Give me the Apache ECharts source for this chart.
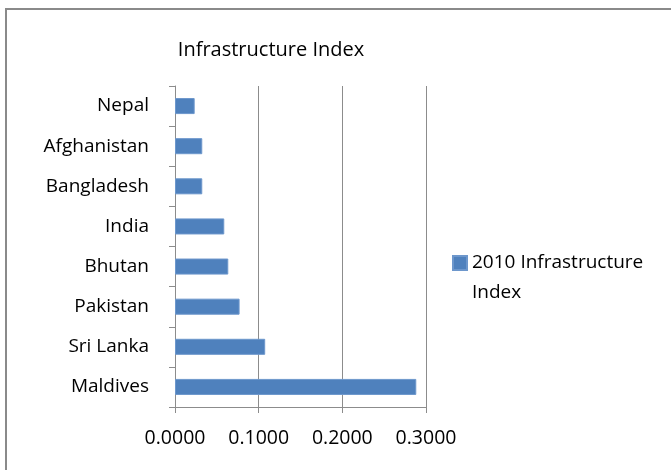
<!DOCTYPE html>
<html>
<head>
<meta charset="utf-8">
<script src="https://cdn.jsdelivr.net/npm/echarts@6/dist/echarts.min.js"></script>
<style>
  html, body { margin: 0; padding: 0; background: #fff; }
  #chart { width: 671px; height: 470px; }
</style>
</head>
<body>
<div id="chart"></div>
<script>
// Countries, listed top to bottom
const countries = ['Nepal', 'Afghanistan', 'Bangladesh', 'India', 'Bhutan', 'Pakistan', 'Sri Lanka', 'Maldives'];
// 2010 infrastructure index per country
const index2010 = [0.0235, 0.0326, 0.0326, 0.0589, 0.0637, 0.0772, 0.1078, 0.2884];
// Value axis tick values
const xTicks = [0, 0.1, 0.2, 0.3];

const FONT = '"Open Sans", sans-serif';
const chart = echarts.init(document.getElementById('chart'));

chart.setOption({
  animation: false,
  backgroundColor: '#fff',
  title: {
    text: 'Infrastructure Index',
    left: 266,
    textAlign: 'center',
    top: 35,
    textStyle: { fontFamily: FONT, fontSize: 20, fontWeight: 'normal', color: '#000' }
  },
  graphic: [{
    type: 'rect',
    shape: { x: 6, y: 9, width: 700, height: 500 },
    style: { fill: 'none', stroke: '#8a8a8a', lineWidth: 2 },
    silent: true
  }],
  legend: {
    left: 452,
    top: 218,
    padding: 0,
    itemWidth: 14,
    itemHeight: 14,
    icon: 'rect',
    // leading blank line keeps the swatch level with the first text line
    formatter: () => ' \n2010 Infrastructure\nIndex',
    textStyle: { fontFamily: FONT, fontSize: 19, fontWeight: 'normal', color: '#000', lineHeight: 30 }
  },
  grid: { left: 175, top: 86, right: 245, bottom: 63, containLabel: false },
  xAxis: {
    type: 'value',
    min: xTicks[0],
    max: xTicks[xTicks.length - 1],
    interval: xTicks[1] - xTicks[0],
    axisLine: { show: true, lineStyle: { color: '#8c8c8c', width: 1 } },
    axisTick: { show: true, length: 6, lineStyle: { color: '#8c8c8c' } },
    splitLine: { show: true, lineStyle: { color: '#8c8c8c', width: 1 } },
    axisLabel: {
      margin: 21,
      fontFamily: FONT, fontSize: 19.5, fontWeight: 'normal', color: '#000',
      formatter: v => v.toFixed(4)
    }
  },
  yAxis: {
    type: 'category',
    data: countries,
    inverse: true,
    axisLine: { show: true, lineStyle: { color: '#8c8c8c', width: 1 } },
    axisTick: { show: true, length: 6, lineStyle: { color: '#8c8c8c' } },
    axisLabel: { margin: 26, fontFamily: FONT, fontSize: 19, fontWeight: 'normal', color: '#000' }
  },
  series: [{
    name: '2010 Infrastructure Index',
    type: 'bar',
    data: index2010,
    barCategoryGap: '60%',
    itemStyle: { color: '#4f81bd', borderColor: '#6d97cc', borderWidth: 1 }
  }]
});
</script>
</body>
</html>
